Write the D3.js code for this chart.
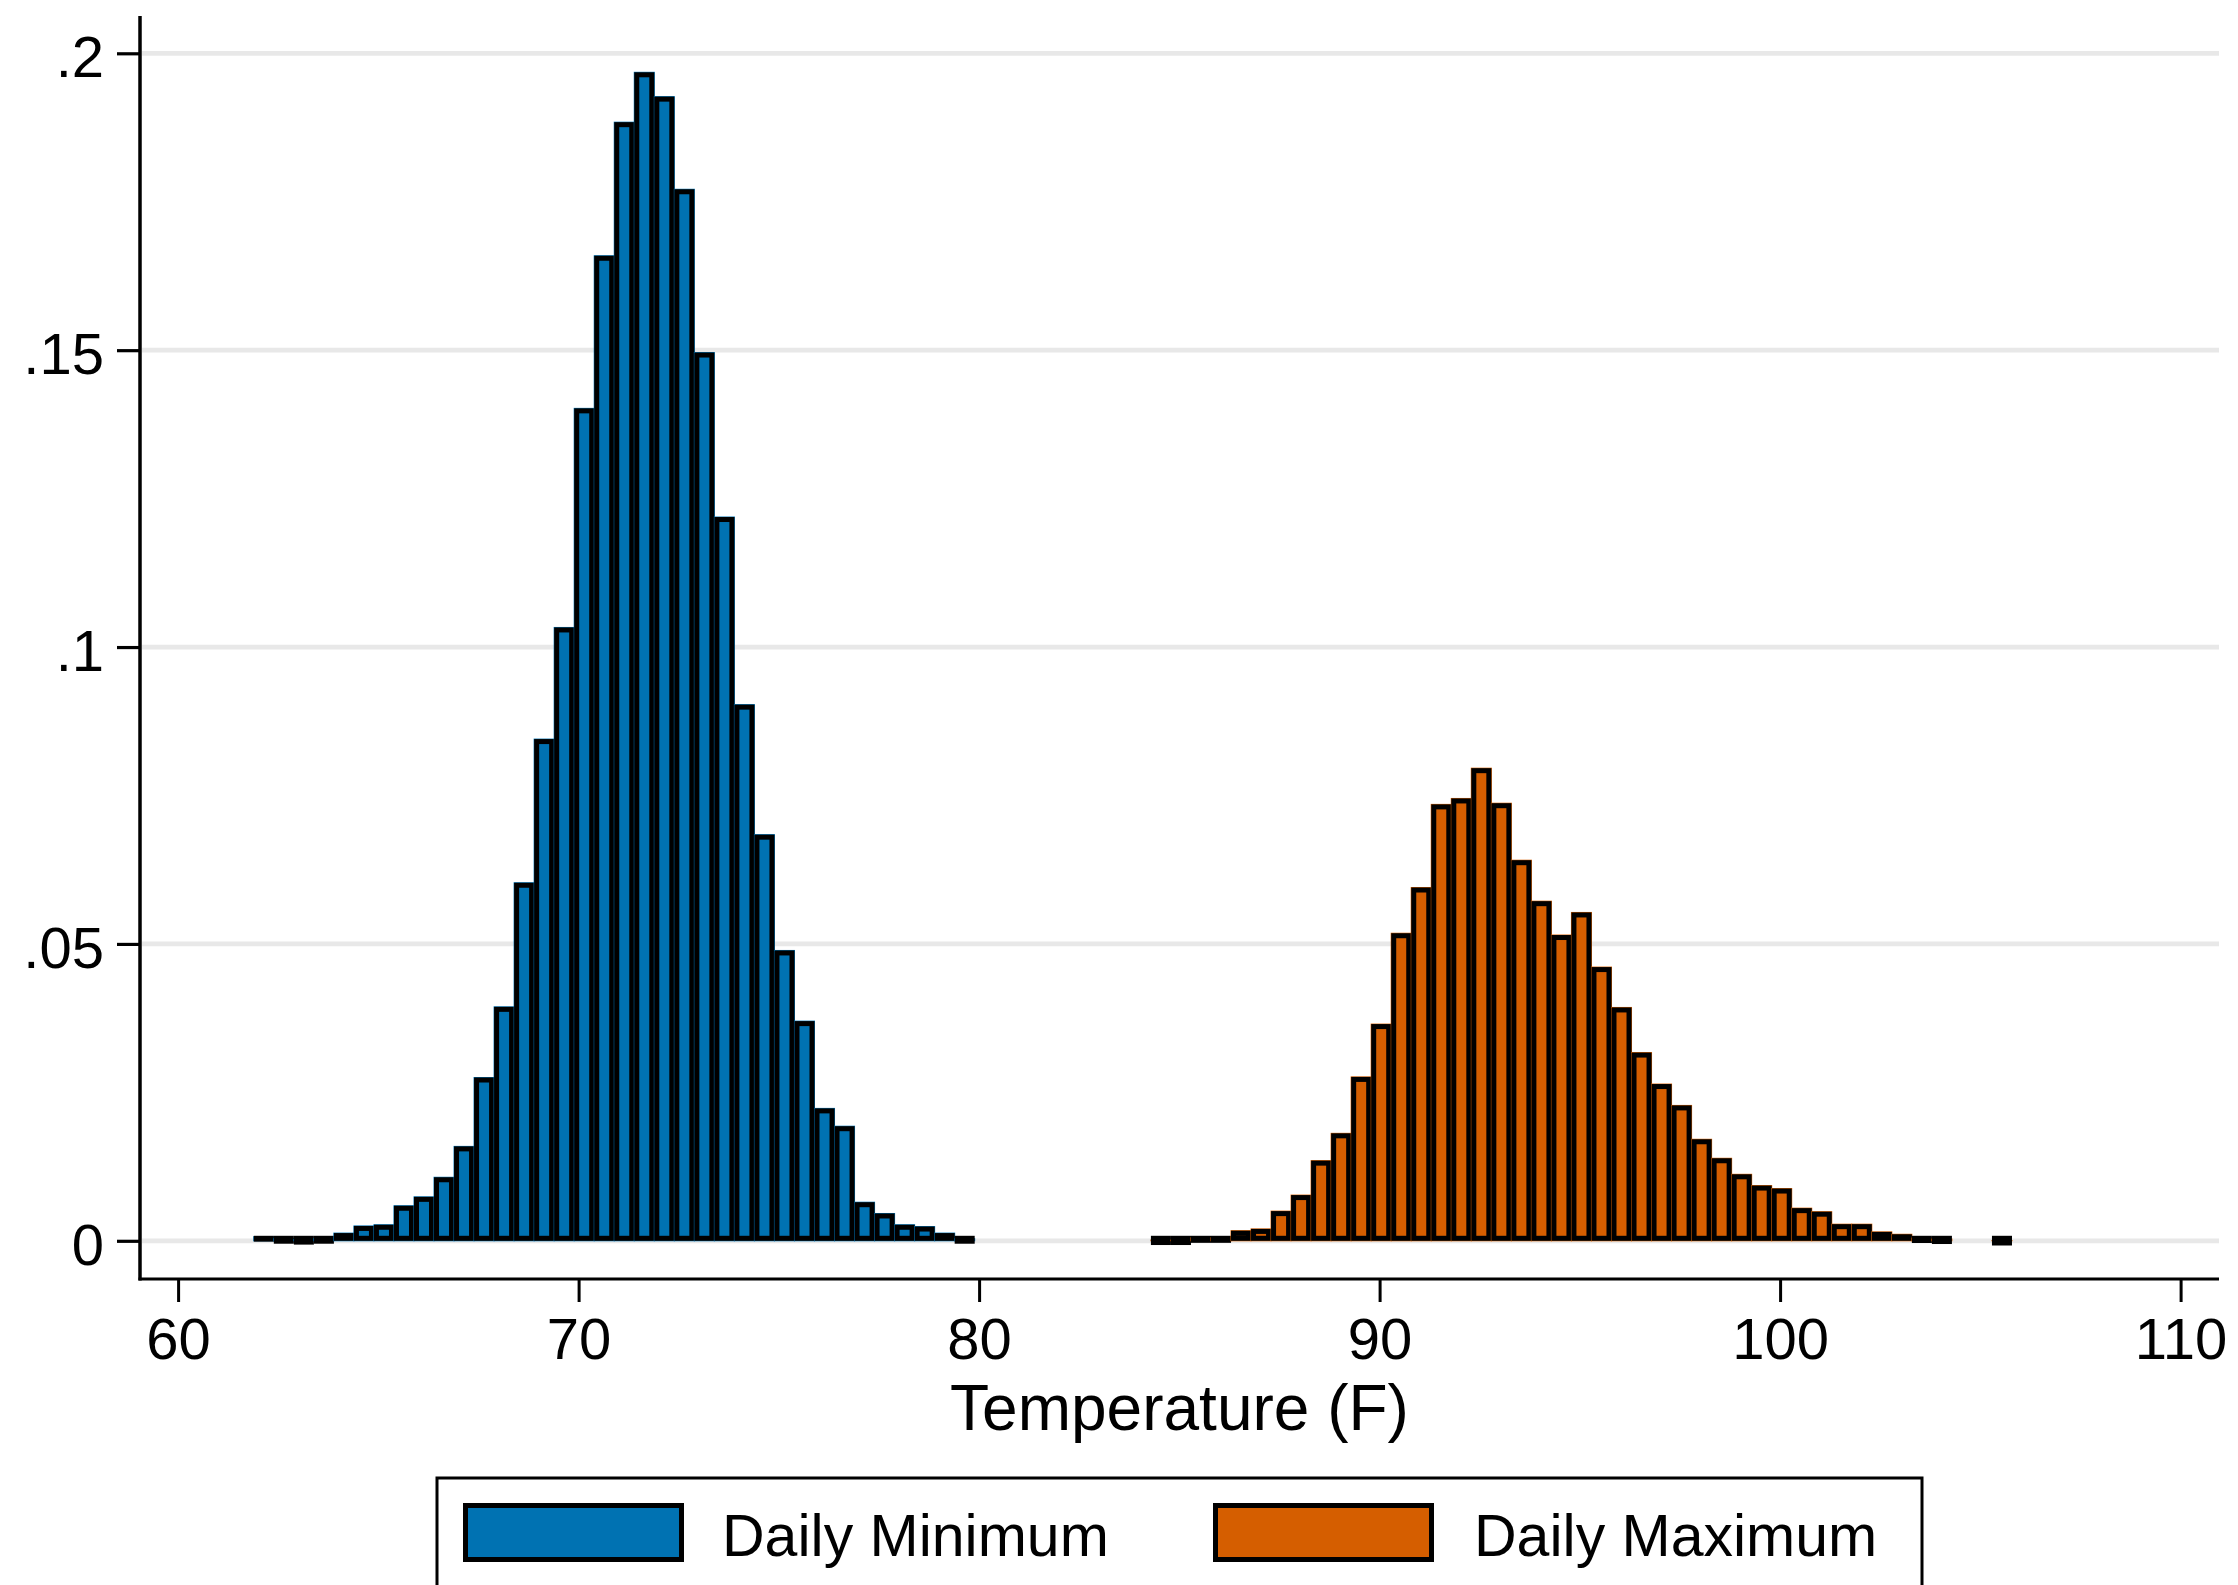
<!DOCTYPE html>
<html>
<head>
<meta charset="utf-8">
<script src="https://cdn.jsdelivr.net/npm/d3@7"></script>
<style>
  html, body { margin: 0; padding: 0; background: #ffffff; }
  svg { display: block; }
  text { font-family: "Liberation Sans", Arial, Helvetica, sans-serif; fill: #000; }
</style>
</head>
<body>
<svg id="chart" width="2238" height="1585"></svg>
<script>
// Histogram densities, bin width 0.5 F
const binWidth = 0.5;

const minStart = 61.89;   // left edge of first Daily Minimum bin
const minDensity = [
  0.0007, 0.00035, 0.0002, 0.00035, 0.0013, 0.0025, 0.0027, 0.0059, 0.0074, 0.0107,
  0.0159, 0.0275, 0.0394, 0.0603, 0.0845, 0.1033, 0.1402, 0.1659, 0.1884, 0.1968,
  0.1927, 0.1771, 0.1496, 0.1219, 0.0903, 0.0684, 0.0489, 0.0370, 0.0223, 0.0193,
  0.0065, 0.0046, 0.0027, 0.0024, 0.0013, 0.00035
];

const maxStart = 84.29;   // left edge of first Daily Maximum bin
const maxDensity = [
  0.00013, 0.00013, 0.0005, 0.0005, 0.0017, 0.0020, 0.0050, 0.0077, 0.0135, 0.0181,
  0.0276, 0.0365, 0.0518, 0.0595, 0.0735, 0.0745, 0.0796, 0.0737, 0.0641, 0.0572,
  0.0515, 0.0553, 0.0461, 0.0393, 0.0317, 0.0264, 0.0228, 0.0171, 0.0139, 0.0112,
  0.0093, 0.0088, 0.0055, 0.0049, 0.0028, 0.0028, 0.0015, 0.0011, 0.00047, 0.0003,
  0, 0, 0.00005
];

const seriesNames = ["Daily Minimum", "Daily Maximum"];
const seriesColors = ["#0072B2", "#D55E00"];

const xTicks = [60, 70, 80, 90, 100, 110];
const yTicks = [0, 0.05, 0.1, 0.15, 0.2];
const yTickLabels = ["0", ".05", ".1", ".15", ".2"];
const xTitle = "Temperature (F)";

// Layout
const plotLeft = 140, plotRight = 2219, plotTop = 16, axisY = 1279;
const outline = 5;

const svg = d3.select("#chart");

const x = d3.scaleLinear().domain([60, 110]).range([178.1, 2180.6]);
const y = d3.scaleLinear().domain([0, 0.2]).range([1240.8, 53.3]);

// Horizontal grid lines
svg.append("g")
  .selectAll("line")
  .data(yTicks)
  .join("line")
  .attr("x1", plotLeft + 2)
  .attr("x2", plotRight)
  .attr("y1", d => y(d))
  .attr("y2", d => y(d))
  .attr("stroke", "#e8e8e8")
  .attr("stroke-width", 4.7);

// Bars: colour fill across the whole bin, then a black outline drawn inside it
function drawHistogram(start, values, color) {
  const bins = values.map((v, i) => ({ x0: start + i * binWidth, x1: start + (i + 1) * binWidth, v }))
                     .filter(d => d.v > 0);
  const g = svg.append("g");
  bins.forEach(d => {
    const px0 = x(d.x0), px1 = x(d.x1);
    const yt = y(d.v), yb = y(0);
    g.append("rect")
      .attr("x", px0).attr("y", yt)
      .attr("width", px1 - px0).attr("height", yb - yt)
      .attr("fill", color)
      .attr("stroke", color).attr("stroke-width", 1);
    const top = yt + outline / 2, bot = yb - outline / 2;
    g.append("rect")
      .attr("x", px0 + outline / 2)
      .attr("y", Math.min(top, bot))
      .attr("width", px1 - px0 - outline)
      .attr("height", Math.abs(bot - top))
      .attr("fill", "none")
      .attr("stroke", "#000")
      .attr("stroke-width", outline);
  });
}
drawHistogram(minStart, minDensity, seriesColors[0]);
drawHistogram(maxStart, maxDensity, seriesColors[1]);

// Axis lines
svg.append("line")
  .attr("x1", plotLeft).attr("x2", plotLeft)
  .attr("y1", plotTop).attr("y2", axisY + 1.5)
  .attr("stroke", "#000").attr("stroke-width", 3.5);
svg.append("line")
  .attr("x1", plotLeft - 1.5).attr("x2", plotRight)
  .attr("y1", axisY).attr("y2", axisY)
  .attr("stroke", "#000").attr("stroke-width", 3.2);

// Y axis ticks and labels
const yAxis = d3.axisLeft(y)
  .tickValues(yTicks)
  .tickFormat((d, i) => yTickLabels[i])
  .tickSize(23)
  .tickPadding(13);
const gy = svg.append("g").attr("transform", `translate(${plotLeft},0)`).call(yAxis);
gy.select(".domain").remove();
gy.selectAll(".tick line").attr("stroke", "#000").attr("stroke-width", 3.2);
gy.selectAll(".tick text")
  .attr("font-size", 58)
  .attr("font-family", "'Liberation Sans', Arial, Helvetica, sans-serif")
  .attr("fill", "#000")
  .attr("dy", "0.4em");

// X axis ticks and labels
const xAxis = d3.axisBottom(x)
  .tickValues(xTicks)
  .tickFormat(d3.format("d"))
  .tickSize(23)
  .tickPadding(16);
const gx = svg.append("g").attr("transform", `translate(0,${axisY})`).call(xAxis);
gx.select(".domain").remove();
gx.selectAll(".tick line").attr("stroke", "#000").attr("stroke-width", 3);
gx.selectAll(".tick text")
  .attr("font-size", 58)
  .attr("font-family", "'Liberation Sans', Arial, Helvetica, sans-serif")
  .attr("fill", "#000")
  .attr("dy", "0.71em");

// X axis title
svg.append("text")
  .attr("x", (plotLeft + plotRight) / 2)
  .attr("y", 1430)
  .attr("text-anchor", "middle")
  .attr("font-size", 64)
  .text(xTitle);

// Legend
const legend = svg.append("g");
legend.append("rect")
  .attr("x", 437).attr("y", 1478)
  .attr("width", 1922 - 437).attr("height", 160)
  .attr("fill", "#fff")
  .attr("stroke", "#000").attr("stroke-width", 3);

const legendItems = [
  { name: seriesNames[0], color: seriesColors[0], sx: 463, tx: 722 },
  { name: seriesNames[1], color: seriesColors[1], sx: 1213, tx: 1474 }
];
legendItems.forEach(it => {
  legend.append("rect")
    .attr("x", it.sx).attr("y", 1503)
    .attr("width", 221).attr("height", 59)
    .attr("fill", it.color);
  legend.append("rect")
    .attr("x", it.sx + outline / 2).attr("y", 1503 + outline / 2)
    .attr("width", 221 - outline).attr("height", 59 - outline)
    .attr("fill", "none")
    .attr("stroke", "#000").attr("stroke-width", outline);
  legend.append("text")
    .attr("x", it.tx).attr("y", 1556)
    .attr("font-size", 59)
    .text(it.name);
});
</script>
</body>
</html>
